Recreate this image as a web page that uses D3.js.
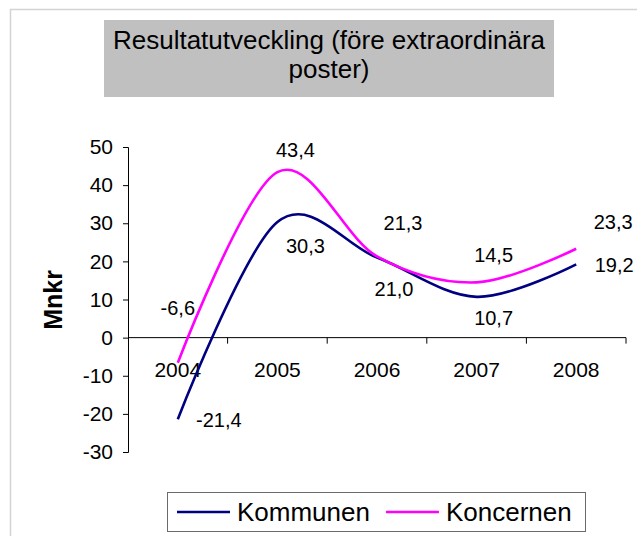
<!DOCTYPE html>
<html>
<head>
<meta charset="utf-8">
<script src="https://cdn.jsdelivr.net/npm/d3@7"></script>
<style>
  body { margin: 0; background: #fff; }
  text { font-family: Arial, "Liberation Sans", sans-serif; fill: #000; }
</style>
</head>
<body>
<svg id="chart" width="637" height="536"></svg>
<script>
  // chart values
  var years = ["2004", "2005", "2006", "2007", "2008"];
  var kommunen = [-21.4, 30.3, 21.0, 10.7, 19.2];
  var koncernen = [-6.6, 43.4, 21.3, 14.5, 23.3];
  var yTicks = [-30, -20, -10, 0, 10, 20, 30, 40, 50];
  var seriesNames = ["Kommunen", "Koncernen"];
  var titleLines = ["Resultatutveckling (före extraordinära", "poster)"];

  // label placement relative to the point (layout only)
  var labelShift = [
    [[41, 1], [28, 24], [17, 31], [17, 21], [38, 0]],
    [[0, -55], [18, -22], [26, -34], [17, -28], [37, -27]]
  ];
  var colors = ["#000080", "#ff00ff"];

  var svg = d3.select("#chart");

  // outer chart frame
  svg.append("rect")
    .attr("x", 10.5).attr("y", 9.5)
    .attr("width", 700).attr("height", 700)
    .attr("fill", "none")
    .attr("stroke", "#d4d4d4")
    .attr("stroke-width", 1.5);

  // title box
  svg.append("rect")
    .attr("x", 104).attr("y", 20)
    .attr("width", 450).attr("height", 77)
    .attr("fill", "#c0c0c0");

  svg.selectAll(".title").data(titleLines).enter()
    .append("text")
    .attr("class", "title")
    .attr("x", 329)
    .attr("y", function(d, i) { return 49 + i * 29; })
    .attr("text-anchor", "middle")
    .style("font-size", "26px")
    .text(function(d) { return d; });

  var x = d3.scaleBand().domain(years).range([128, 626]).padding(0);
  var y = d3.scaleLinear().domain([-30, 50]).range([452, 147]);

  // y axis
  var yAxis = svg.append("g")
    .attr("transform", "translate(128,0)")
    .call(d3.axisLeft(y).tickValues(yTicks).tickSize(5).tickPadding(10)
      .tickFormat(function(d) { return String(d); }));
  yAxis.selectAll("text").style("font-size", "21px").attr("font-family", null);
  yAxis.select(".domain").attr("stroke", "#000");

  // x axis drawn at zero
  var xAxis = svg.append("g").attr("transform", "translate(0," + y(0) + ")");
  xAxis.append("line")
    .attr("x1", 128).attr("x2", 626)
    .attr("stroke", "#000");
  var bounds = years.map(function(d) { return x(d) + x.bandwidth(); });
  xAxis.selectAll(".xtick").data(bounds).enter()
    .append("line")
    .attr("x1", function(d) { return d; })
    .attr("x2", function(d) { return d; })
    .attr("y1", 0).attr("y2", 6)
    .attr("stroke", "#000");
  xAxis.selectAll(".xlabel").data(years).enter()
    .append("text")
    .attr("x", function(d) { return x(d) + x.bandwidth() / 2; })
    .attr("y", 39)
    .attr("text-anchor", "middle")
    .style("font-size", "21px")
    .text(function(d) { return d; });

  // axis title
  svg.append("text")
    .attr("transform", "translate(62,300) rotate(-90)")
    .attr("text-anchor", "middle")
    .style("font-size", "25px")
    .style("font-weight", "bold")
    .text("Mnkr");

  // smoothed lines
  var line = d3.line()
    .x(function(d, i) { return x(years[i]) + x.bandwidth() / 2; })
    .y(function(d) { return y(d); })
    .curve(d3.curveCardinal.tension(0));

  var allSeries = [kommunen, koncernen];

  allSeries.forEach(function(vals, s) {
    svg.append("path")
      .attr("d", line(vals))
      .attr("fill", "none")
      .attr("stroke", colors[s])
      .attr("stroke-width", 2.6);
  });

  allSeries.forEach(function(vals, s) {
    svg.selectAll(".lbl" + s).data(vals).enter()
      .append("text")
      .attr("x", function(d, i) { return x(years[i]) + x.bandwidth() / 2 + labelShift[s][i][0]; })
      .attr("y", function(d, i) { return y(d) + labelShift[s][i][1]; })
      .attr("dy", "0.36em")
      .attr("text-anchor", "middle")
      .style("font-size", "20px")
      .text(function(d) { return d.toFixed(1).replace(".", ","); });
  });

  // legend
  var legend = svg.append("g");
  legend.append("rect")
    .attr("x", 167.5).attr("y", 492.5)
    .attr("width", 418).attr("height", 39)
    .attr("fill", "#fff")
    .attr("stroke", "#6b6b6b");

  var lx = 177;
  seriesNames.forEach(function(name, s) {
    legend.append("line")
      .attr("x1", lx).attr("x2", lx + 53)
      .attr("y1", 512).attr("y2", 512)
      .attr("stroke", colors[s])
      .attr("stroke-width", 2.6);
    var t = legend.append("text")
      .attr("x", lx + 60)
      .attr("y", 512)
      .attr("dy", "0.35em")
      .style("font-size", "26px")
      .text(name);
    lx = lx + 60 + t.node().getComputedTextLength() + 16;
  });
</script>
</body>
</html>
